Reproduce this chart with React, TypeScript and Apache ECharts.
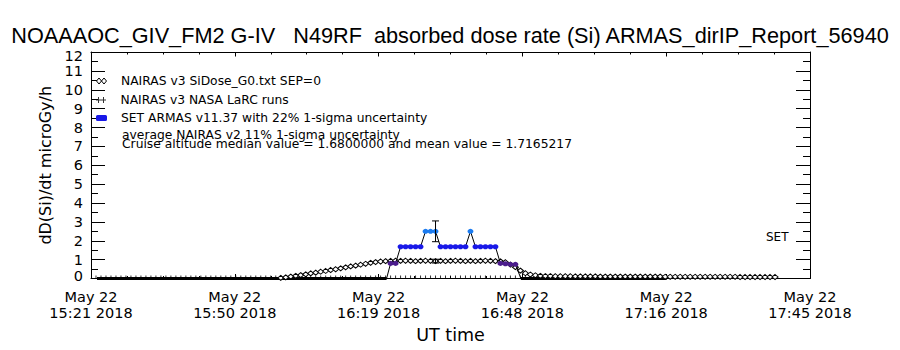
import React, { useEffect, useRef } from 'react';
import * as echarts from 'echarts';

const FONT = '"Liberation Sans", Arial, sans-serif';
const FONT2 = '"DejaVu Sans", Verdana, sans-serif';

// x axis: minutes after 15:21 UT, May 22 2018
const xTickLabels = [
  'May 22\n15:21 2018',
  'May 22\n15:50 2018',
  'May 22\n16:19 2018',
  'May 22\n16:48 2018',
  'May 22\n17:16 2018',
  'May 22\n17:45 2018',
];
const X_MIN = 0;
const X_MAX = 144;
const X_STEP = 28.8;
const Y_MIN = 0;
const Y_MAX = 12;

const TITLE = 'NOAAAOC_GIV_FM2 G-IV   N49RF  absorbed dose rate (Si) ARMAS_dirIP_Report_56940';
const NAIRAS_NAME = 'NAIRAS v3 SiDose_G0.txt SEP=0';
const LARC_NAME = 'NAIRAS v3 NASA LaRC runs';
const ARMAS_NAME = 'SET ARMAS v11.37 with 22% 1-sigma uncertainty';
const noteLines = [
  'average NAIRAS v2 11% 1-sigma uncertainty',
  'Cruise altitude median value = 1.6800000 and mean value = 1.7165217',
];

// NAIRAS v3 model (minutes, microGy/h)
const nairasT = [
  38, 39, 40, 41, 42, 43, 44, 45, 46, 47,
  48, 49, 50, 51, 52, 53, 54, 55, 56, 57,
  58, 59, 60, 61, 62, 63, 64, 65, 66, 67,
  68, 69, 70, 71, 72, 73, 74, 75, 76, 77,
  78, 79, 80, 81, 82, 83, 84, 85, 86, 87,
  88, 89, 90, 91, 92, 93, 94, 95, 96, 97,
  98, 99, 100, 101, 102, 103, 104, 105, 106, 107,
  108, 109, 110, 111, 112, 113, 114, 115, 116, 117,
  118, 119, 120, 121, 122, 123, 124, 125, 126, 127,
  128, 129, 130, 131, 132, 133, 134, 135, 136, 137,
];
const nairasV = [
  0.03, 0.06, 0.1, 0.14, 0.18, 0.22, 0.27, 0.31, 0.36, 0.4,
  0.45, 0.49, 0.54, 0.59, 0.64, 0.68, 0.73, 0.78, 0.83, 0.87,
  0.9, 0.92, 0.93, 0.94, 0.93, 0.94, 0.93, 0.92, 0.93, 0.94,
  0.93, 0.92, 0.93, 0.92, 0.93, 0.94, 0.93, 0.92, 0.93, 0.92,
  0.93, 0.94, 0.93, 0.92, 0.91, 0.86, 0.74, 0.6, 0.42, 0.28,
  0.21, 0.17, 0.14, 0.13, 0.13, 0.12, 0.12, 0.12, 0.12, 0.11,
  0.11, 0.11, 0.11, 0.11, 0.1, 0.1, 0.1, 0.1, 0.1, 0.1,
  0.1, 0.1, 0.1, 0.1, 0.1, 0.1, 0.1, 0.09, 0.09, 0.09,
  0.09, 0.09, 0.09, 0.09, 0.09, 0.09, 0.09, 0.09, 0.09, 0.09,
  0.09, 0.09, 0.08, 0.08, 0.08, 0.08, 0.08, 0.08, 0.08, 0.08,
];

// NASA LaRC runs (all zero in this window)
const larcT = [
  1, 2, 3, 4, 5, 6, 7, 8, 9, 10, 11, 12, 13, 14, 15, 16, 17, 18, 19, 20,
  21, 22, 23, 24, 25, 26, 27, 28, 29, 30, 31, 32, 33, 34, 35, 36, 37, 38, 39, 40,
  41, 42, 43, 44, 45, 46, 47, 48, 49, 50, 51, 52, 53, 54, 55, 56, 57, 58, 59, 60,
  61, 62, 63, 64, 65, 66, 67, 68, 69, 70, 71, 72, 73, 74, 75, 76, 77, 78, 79, 80,
  81, 82, 83, 84, 85, 86, 87, 88, 89, 90, 91, 92, 93, 94, 95, 96, 97, 98, 99, 100,
  101, 102, 103, 104, 105, 106, 107, 108, 109, 110, 111, 112, 113, 114, 115, 116, 117, 118, 119, 120,
  121, 122, 123, 124, 125, 126, 127, 128, 129, 130, 131, 132, 133, 134, 135, 136, 137,
];

// SET ARMAS measurements
const armasT = [
  59.2, 60, 61, 62, 63, 64, 65, 66, 67, 68, 69, 70, 71, 72, 73, 74,
  75, 76, 77, 78, 79, 80, 81, 82, 83, 84, 85, 86.1,
];
const armasV = [
  0, 0.8, 0.8, 1.68, 1.68, 1.68, 1.68, 1.68, 2.5, 2.5, 2.5, 1.68, 1.68, 1.68, 1.68, 1.68,
  1.68, 2.5, 1.68, 1.68, 1.68, 1.68, 1.68, 0.8, 0.78, 0.75, 0.75, 0,
];
// ARMAS reading zero (instrument off/below threshold)
const armasZeroT = [1.2, 59.2, null, 86.1, 115.3];

// 1-sigma error bars
const errT = [69, 69];
const errLo = [1.95, 0.82];
const errHi = [3.05, 1.02];

const armasColor = (v: number) => (v >= 2.2 ? '#1c7cf0' : v >= 1.2 ? '#1818e8' : '#4b1c8c');

const legendItems = [
  {
    name: NAIRAS_NAME,
    icon: 'path://M0 3L2.5 0L5 3L2.5 6ZM5 3L7.5 0L10 3L7.5 6Z',
    itemStyle: { color: '#fff', borderColor: '#000', borderWidth: 1 },
  },
  {
    name: LARC_NAME,
    icon: 'path://M0 2.5H10V3.5H0ZM2 0H3V6H2ZM7 0H8V6H7Z',
    itemStyle: { color: '#000', borderWidth: 0 },
  },
  {
    name: ARMAS_NAME,
    icon: 'roundRect',
    itemStyle: { color: '#1818e8', borderWidth: 0 },
  },
];
const legendRowY = [81, 100, 118];

export default function App() {
  const ref = useRef<HTMLDivElement>(null);

  useEffect(() => {
    if (!ref.current) return;
    const chart = echarts.init(ref.current, undefined, { renderer: 'svg' });

    const axisLine = { show: true, onZero: false, lineStyle: { color: '#000', width: 1 } };
    const xTick = { show: true, inside: true, length: 4.5, lineStyle: { color: '#000', width: 1 } };
    const xMinor = { show: true, splitNumber: 4, length: 2.5, lineStyle: { color: '#000', width: 1 } };
    const yTick = { show: true, inside: true, length: 14, lineStyle: { color: '#000', width: 1 } };
    const yMinor = { show: true, splitNumber: 2, length: 7, lineStyle: { color: '#000', width: 1 } };

    const option: any = {
      animation: false,
      backgroundColor: '#fff',
      title: {
        text: TITLE,
        left: 'center',
        top: 19,
        textStyle: { fontFamily: FONT, fontSize: 21.7, fontWeight: 'normal', color: '#000' },
      },
      legend: legendItems.map((item, i) => ({
        orient: 'vertical',
        left: 96,
        top: legendRowY[i] - 6.5,
        padding: 0,
        itemWidth: 11,
        itemHeight: 6,
        selectedMode: false,
        textStyle: { fontFamily: FONT2, fontSize: 12.3, color: '#000', lineHeight: 13, padding: [0, 0, 0, 9] },
        data: [item],
      })),
      grid: { left: 91, right: 90, top: 52, bottom: 71.5, outerBoundsMode: 'none', containLabel: false },
      xAxis: [
        {
          type: 'value',
          position: 'bottom',
          min: X_MIN,
          max: X_MAX,
          interval: X_STEP,
          axisLine,
          axisTick: xTick,
          minorTick: xMinor,
          splitLine: { show: false },
          axisLabel: {
            formatter: (v: number) => xTickLabels[Math.round((v - X_MIN) / X_STEP)] ?? '',
            fontFamily: FONT2,
            fontSize: 14.5,
            lineHeight: 16.5,
            color: '#000',
            margin: 10,
            showMinLabel: true,
            showMaxLabel: true,
          },
          name: 'UT time',
          nameLocation: 'middle',
          nameGap: 46,
          nameTextStyle: { fontFamily: FONT2, fontSize: 17.5, color: '#000' },
        },
        {
          type: 'value',
          position: 'top',
          min: X_MIN,
          max: X_MAX,
          interval: X_STEP,
          axisLine,
          axisTick: xTick,
          minorTick: xMinor,
          splitLine: { show: false },
          axisLabel: { show: false },
        },
      ],
      yAxis: [
        {
          type: 'value',
          position: 'left',
          min: Y_MIN,
          max: Y_MAX,
          interval: 1,
          axisLine,
          axisTick: yTick,
          minorTick: yMinor,
          splitLine: { show: false },
          axisLabel: {
            fontFamily: FONT2,
            fontSize: 14.5,
            color: '#000',
            margin: 8,
            showMinLabel: true,
            showMaxLabel: true,
            formatter: (v: number) => (v === Y_MAX ? '{hi|' + v + '}' : v === Y_MIN ? '{lo|' + v + '}' : String(v)),
            rich: {
              hi: { fontFamily: FONT2, fontSize: 14.5, color: '#000', padding: [7, 0, 0, 0] },
              lo: { fontFamily: FONT2, fontSize: 14.5, color: '#000', padding: [0, 0, 5, 0] },
            },
          },
          name: 'dD(Si)/dt microGy/h',
          nameLocation: 'middle',
          nameGap: 36,
          nameRotate: 90,
          nameTextStyle: { fontFamily: FONT2, fontSize: 16, color: '#000' },
        },
        {
          type: 'value',
          position: 'right',
          min: Y_MIN,
          max: Y_MAX,
          interval: 1,
          axisLine,
          axisTick: yTick,
          minorTick: yMinor,
          splitLine: { show: false },
          axisLabel: { show: false },
        },
      ],
      graphic: [
        {
          type: 'text',
          left: 122,
          top: 128.5,
          style: { text: noteLines[0], fontFamily: FONT2, fontSize: 12.3, fill: '#000' },
        },
        {
          type: 'text',
          left: 122,
          top: 137.5,
          style: { text: noteLines[1], fontFamily: FONT2, fontSize: 12.3, fill: '#000' },
        },
        {
          type: 'text',
          left: 766,
          top: 230.5,
          style: { text: 'SET', fontFamily: FONT2, fontSize: 12, fill: '#000' },
        },
      ],
      series: [
        {
          name: 'ARMAS zero',
          type: 'line',
          data: armasZeroT.map((t) => (t === null ? [72, '-'] : [t, 0])),
          symbol: 'none',
          connectNulls: false,
          lineStyle: { color: '#000', width: 3 },
          z: 2,
          silent: true,
        },
        {
          name: LARC_NAME,
          type: 'scatter',
          data: larcT.map((t) => [t, 0]),
          symbol: 'rect',
          symbolSize: [1, 3],
          symbolOffset: [0, -1.5],
          itemStyle: { color: '#000' },
          z: 2,
          silent: true,
        },
        {
          name: NAIRAS_NAME,
          type: 'line',
          data: nairasT.map((t, i) => [t, nairasV[i]]),
          symbol: 'diamond',
          symbolSize: [6, 5],
          showAllSymbol: true,
          itemStyle: { color: '#fff', borderColor: '#000', borderWidth: 1 },
          lineStyle: { color: '#000', width: 1 },
          z: 3,
          silent: true,
        },
        {
          name: ARMAS_NAME,
          type: 'line',
          data: armasT.map((t, i) =>
            armasV[i] === 0
              ? { value: [t, 0], symbol: 'none' }
              : { value: [t, armasV[i]], itemStyle: { color: armasColor(armasV[i]) } }
          ),
          symbol: 'circle',
          symbolSize: [6, 5],
          showAllSymbol: true,
          itemStyle: { color: '#1818e8', borderWidth: 0 },
          lineStyle: { color: '#000', width: 1 },
          z: 4,
          silent: true,
        },
        {
          name: 'uncertainty',
          type: 'custom',
          data: errT.map((t, i) => [t, errLo[i], errHi[i]]),
          encode: { x: 0, y: [1, 2] },
          z: 5,
          silent: true,
          renderItem: (_params: any, api: any) => {
            const t = api.value(0);
            const pLo = api.coord([t, api.value(1)]);
            const pHi = api.coord([t, api.value(2)]);
            const w = 3.5;
            const st = { stroke: '#000', lineWidth: 1 };
            return {
              type: 'group',
              children: [
                { type: 'line', shape: { x1: pLo[0], y1: pLo[1], x2: pHi[0], y2: pHi[1] }, style: st },
                { type: 'line', shape: { x1: pLo[0] - w, y1: pLo[1], x2: pLo[0] + w, y2: pLo[1] }, style: st },
                { type: 'line', shape: { x1: pHi[0] - w, y1: pHi[1], x2: pHi[0] + w, y2: pHi[1] }, style: st },
              ],
            };
          },
        },
      ],
    };

    chart.setOption(option);
    return () => chart.dispose();
  }, []);

  return <div ref={ref} style={{ width: 900, height: 350, position: 'absolute', left: 0, top: 0 }} />;
}
